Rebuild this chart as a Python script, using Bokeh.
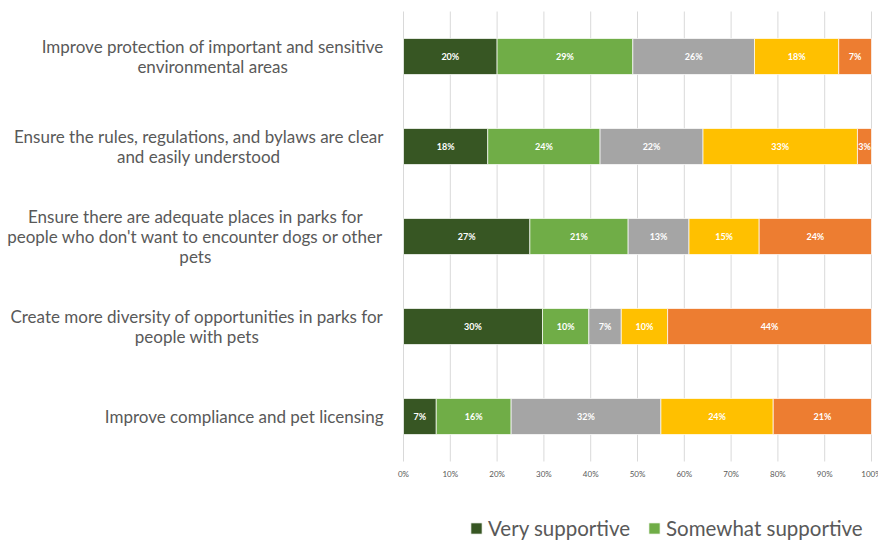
from bokeh.plotting import figure
from bokeh.models import ColumnDataSource, Legend, LegendItem, Range1d
from bokeh.core.properties import value
from bokeh.embed import file_html
from bokeh.resources import INLINE

categories = [
    "Improve protection of important and sensitive\nenvironmental areas",
    "Ensure the rules, regulations, and bylaws are clear\nand easily understood",
    "Ensure there are adequate places in parks for\npeople who don't want to encounter dogs or other\npets",
    "Create more diversity of opportunities in parks for\npeople with pets",
    "Improve compliance and pet licensing",
]
series_names = ["Very supportive", "Somewhat supportive", "Neutral",
                "Somewhat unsupportive", "Very unsupportive"]
very_supportive = [20, 18, 27, 30, 7]
somewhat_supportive = [29, 24, 21, 10, 16]
neutral = [26, 22, 13, 7, 32]
somewhat_unsupportive = [18, 33, 15, 10, 24]
very_unsupportive = [7, 3, 24, 44, 21]
tick_values = [0, 10, 20, 30, 40, 50, 60, 70, 80, 90, 100]
tick_labels = ["0%", "10%", "20%", "30%", "40%", "50%", "60%", "70%", "80%", "90%", "100%"]
colors = ["#375623", "#70AD47", "#A5A5A5", "#FFC000", "#ED7D31"]

series = [very_supportive, somewhat_supportive, neutral, somewhat_unsupportive, very_unsupportive]
keys = ["s0", "s1", "s2", "s3", "s4"]

# ---- layout (pixels) ----
W, H = 878, 540
ZERO_PX = 403        # x pixel of 0%
PX_PER_PCT = 4.68    # 0%..100% spans 468 px
TOP_PX = 11          # top of first category band
BAND_PX = 90         # height of one category band

n = len(categories)
ypos = [n - 1 - i for i in range(n)]           # top category highest
totals = [sum(vals[i] for vals in series) for i in range(n)]

data = {"y": ypos}
for k, vals in zip(keys, series):
    data[k] = [v * 100.0 / t for v, t in zip(vals, totals)]
source = ColumnDataSource(data)

x_range = Range1d(-ZERO_PX / PX_PER_PCT, (W - ZERO_PX) / PX_PER_PCT)
y_top = (n - 0.5) + TOP_PX / BAND_PX
y_range = Range1d(y_top - H / BAND_PX, y_top)

p = figure(width=W, height=H, output_backend="svg", toolbar_location=None,
           x_range=x_range, y_range=y_range,
           min_border_left=0, min_border_right=0, min_border_top=0, min_border_bottom=0)
p.outline_line_color = None
p.background_fill_color = "white"
p.axis.visible = False
p.grid.visible = False

# vertical grid lines over the category area
band_bottom = -0.5
band_top = n - 0.5
p.segment(x0=tick_values, x1=tick_values, y0=[band_bottom] * len(tick_values),
          y1=[band_top] * len(tick_values), line_color="#D9D9D9", line_width=1)

renderers = p.hbar_stack(keys, y="y", height=0.4, color=colors, source=source,
                         line_color="white", line_width=0.7)

# tick labels (percent axis)
p.text(x=tick_values, y=[band_bottom] * len(tick_values), text=tick_labels,
       y_offset=12, text_align="center", text_baseline="middle",
       text_color="#595959", text_font=value("Lato"), text_font_size="8px")

# category labels (right-anchored block, centred lines)
p.text(x=[0] * n, y=ypos, text=categories, anchor="center_right",
       text_align="center", text_baseline="middle", x_offset=-20,
       text_color="#595959", text_font=value("Lato"), text_font_size="17px",
       text_line_height=0.95)

# data labels
lx, ly, lt = [], [], []
for i in range(n):
    cum = 0.0
    for k, vals in zip(keys, series):
        w = data[k][i]
        lx.append(cum + w / 2)
        ly.append(ypos[i])
        lt.append(f"{vals[i]}%")
        cum += w
p.text(x=lx, y=ly, text=lt, text_align="center", text_baseline="middle",
       text_color="white", text_font=value("Lato"), text_font_style="bold",
       text_font_size="9px")

legend = Legend(items=[LegendItem(label=series_names[0], renderers=[renderers[0]]),
                       LegendItem(label=series_names[1], renderers=[renderers[1]])],
                location=(469, 0), orientation="horizontal",
                label_text_font="Lato", label_text_font_size="20.5px",
                label_text_color="#595959", glyph_height=14, glyph_width=14,
                label_standoff=5, spacing=17, padding=0, border_line_color=None,
                background_fill_alpha=0)
p.add_layout(legend, "center")

open("out.html", "w").write(file_html(p, INLINE))
